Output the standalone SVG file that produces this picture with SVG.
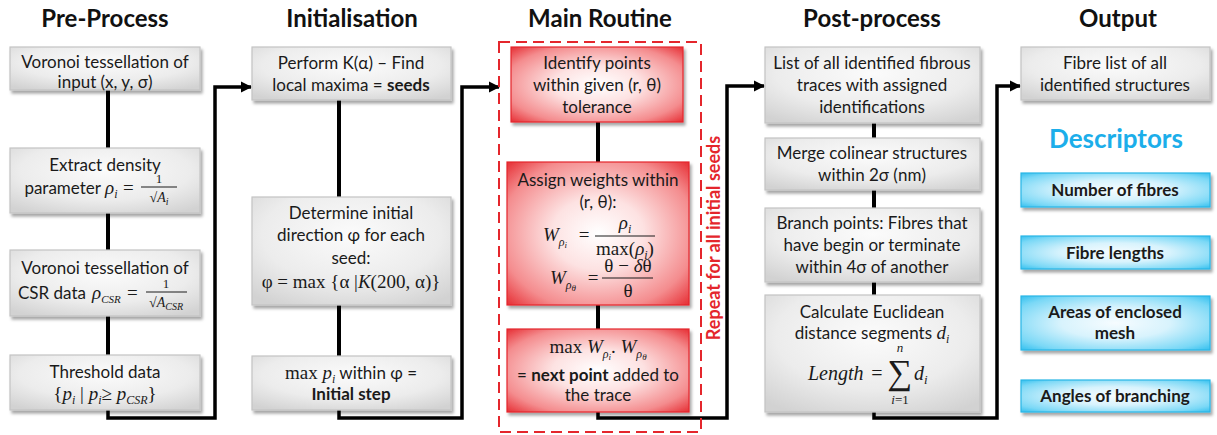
<svg xmlns="http://www.w3.org/2000/svg" width="1217" height="435" viewBox="0 0 1217 435">
<defs>
<style>
.t{font-family:Lato,"Liberation Sans",sans-serif;font-size:17px;fill:#1a1a1a;text-anchor:middle}
.b{font-weight:bold}
.h{font-family:Lato,"Liberation Sans",sans-serif;font-size:24px;font-weight:bold;fill:#111;text-anchor:middle}
.m{font-family:"Liberation Serif","DejaVu Serif",serif;font-size:19px;fill:#1a1a1a}
.i{font-style:italic}
.s9{font-size:9px}
.s10{font-size:10px}
.s11{font-size:11px}
.s12{font-size:12px}
.s13{font-size:13px}
.s14{font-size:14px}
.gbox{fill:url(#gg);stroke:#c4c4c4;stroke-width:1.2;filter:url(#sh)}
.rbox{fill:url(#rg);stroke:#e4262c;stroke-width:1.2;filter:url(#sh)}
.bbox{fill:url(#bg);stroke:#2ab6e6;stroke-width:1.2;filter:url(#sh)}
.ln{stroke:#000;stroke-width:4;fill:none}
.cn{stroke:#000;stroke-width:3.5;fill:none;stroke-linejoin:miter}
.fl{stroke:#1a1a1a;stroke-width:1}
</style>
<radialGradient id="gg" cx="50%" cy="35%" r="75%">
<stop offset="0" stop-color="#fbfbfb"/><stop offset="0.6" stop-color="#ececec"/><stop offset="1" stop-color="#d2d2d2"/>
</radialGradient>
<radialGradient id="rg" cx="50%" cy="50%" r="72%">
<stop offset="0" stop-color="#ffffff"/><stop offset="0.35" stop-color="#fde2e2"/><stop offset="0.75" stop-color="#f48c8e"/><stop offset="1" stop-color="#e5262c"/>
</radialGradient>
<radialGradient id="bg" cx="50%" cy="50%" r="72%">
<stop offset="0" stop-color="#f6fcff"/><stop offset="0.4" stop-color="#d8f3fd"/><stop offset="0.8" stop-color="#7ad8f6"/><stop offset="1" stop-color="#2cbdee"/>
</radialGradient>
<filter id="sh" x="-10%" y="-10%" width="125%" height="135%">
<feDropShadow dx="2" dy="3" stdDeviation="1.8" flood-color="#000" flood-opacity="0.35"/>
</filter>
<marker id="ar" viewBox="0 0 10 10" refX="9" refY="5" markerWidth="3.2" markerHeight="3.2" orient="auto" markerUnits="strokeWidth">
<path d="M0,0 L10,5 L0,10 z" fill="#000"/>
</marker>
</defs>
<rect width="1217" height="435" fill="#fff"/>

<g id="titles">
<text class="h" x="105" y="27">Pre-Process</text>
<text class="h" x="352" y="27">Initialisation</text>
<text class="h" x="600" y="27">Main Routine</text>
<text class="h" x="872" y="27">Post-process</text>
<text class="h" x="1118" y="27">Output</text>
</g>

<g id="connectors">
<line class="ln" x1="108" y1="90" x2="108" y2="148"/>
<line class="ln" x1="108" y1="213" x2="108" y2="250"/>
<line class="ln" x1="108" y1="316" x2="108" y2="355"/>
<line class="ln" x1="339" y1="100" x2="339" y2="197"/>
<line class="ln" x1="339" y1="305" x2="339" y2="356"/>
<line class="ln" x1="598" y1="122" x2="598" y2="162"/>
<line class="ln" x1="598" y1="305" x2="598" y2="329"/>
<line class="ln" x1="874" y1="123" x2="874" y2="138"/>
<line class="ln" x1="874" y1="190" x2="874" y2="208"/>
<line class="ln" x1="874" y1="282" x2="874" y2="295"/>
<path class="cn" d="M108,410 V418 H215 V87 H251" marker-end="url(#ar)"/>
<path class="cn" d="M339,410 V418 H462 V87 H499" marker-end="url(#ar)"/>
<path class="cn" d="M598,412 V418 H727 V86 H764" marker-end="url(#ar)"/>
<path class="cn" d="M874,412 V418 H997 V86 H1020" marker-end="url(#ar)"/>
</g>

<g id="repeat-loop">
<rect x="499" y="42" width="202" height="390" fill="none" stroke="#e4262c" stroke-width="2" stroke-dasharray="11,6"/>
<text transform="translate(720,238) rotate(-90)" style="font-family:Lato,'Liberation Sans',sans-serif;font-size:18px;font-weight:bold;fill:#e4262c;text-anchor:middle">Repeat for all initial seeds</text>
</g>

<g id="pre1">
<rect class="gbox" x="10" y="47" width="190" height="43"/>
<text class="t" x="105" y="68">Voronoi tessellation of</text>
<text class="t" x="105" y="88">input (x, y, σ)</text>
</g>
<g id="pre2">
<rect class="gbox" x="10" y="148" width="190" height="65"/>
<text class="t" x="105" y="171">Extract density</text>
<text class="t" x="101" y="194" style="text-anchor:end">parameter</text>
<text class="m i" x="105" y="194">ρ<tspan class="s12" dy="4">i</tspan></text>
<text class="m" x="123" y="194">=</text>
<text class="m s13" x="159" y="183" text-anchor="middle">1</text>
<line class="fl" x1="141" y1="187" x2="177" y2="187"/>
<text class="m s14" x="159" y="202" text-anchor="middle">√<tspan class="i">A</tspan><tspan class="i s10" dy="3">i</tspan></text>
</g>
<g id="pre3">
<rect class="gbox" x="10" y="250" width="190" height="66"/>
<text class="t" x="105" y="274">Voronoi tessellation of</text>
<text class="t" x="18" y="299" style="text-anchor:start">CSR data</text>
<text class="m i" x="92" y="299">ρ<tspan class="s11" dy="4">CSR</tspan></text>
<text class="m" x="127" y="299">=</text>
<text class="m s13" x="166" y="288" text-anchor="middle">1</text>
<line class="fl" x1="146" y1="292" x2="187" y2="292"/>
<text class="m s14" x="166" y="307" text-anchor="middle">√<tspan class="i">A</tspan><tspan class="i s10" dy="3">CSR</tspan></text>
</g>
<g id="pre4">
<rect class="gbox" x="10" y="355" width="190" height="55"/>
<text class="t" x="105" y="378">Threshold data</text>
<text class="m" x="105" y="400" text-anchor="middle">{<tspan class="i">p</tspan><tspan class="i s12" dy="4">i</tspan><tspan dy="-4"> | </tspan><tspan class="i">p</tspan><tspan class="i s12" dy="4">i</tspan><tspan dy="-4">≥ </tspan><tspan class="i">p</tspan><tspan class="i s12" dy="4">CSR</tspan><tspan dy="-4">}</tspan></text>
</g>

<g id="init1">
<rect class="gbox" x="252" y="47" width="199" height="53"/>
<text class="t" x="351" y="69">Perform K(α) – Find</text>
<text class="t" x="351" y="91">local maxima = <tspan class="b">seeds</tspan></text>
</g>
<g id="init2">
<rect class="gbox" x="252" y="197" width="199" height="108"/>
<text class="t" x="351" y="219">Determine initial</text>
<text class="t" x="351" y="241">direction φ for each</text>
<text class="t" x="351" y="264">seed:</text>
<text class="m" x="351" y="288" text-anchor="middle">φ = max {α |<tspan class="i">K</tspan>(200, α)}</text>
</g>
<g id="init3">
<rect class="gbox" x="252" y="356" width="199" height="54"/>
<text class="t" x="351" y="379"><tspan class="m">max </tspan><tspan class="m i">p</tspan><tspan class="m i s12" dy="4">i</tspan><tspan dy="-4"> within φ =</tspan></text>
<text class="t b" x="351" y="400">Initial step</text>
</g>

<g id="main1">
<rect class="rbox" x="511" y="47" width="172" height="75"/>
<text class="t" x="597" y="69">Identify points</text>
<text class="t" x="597" y="91">within given (r, θ)</text>
<text class="t" x="597" y="113">tolerance</text>
</g>
<g id="main2">
<rect class="rbox" x="507" y="162" width="182" height="143"/>
<text class="t" x="598" y="186">Assign weights within</text>
<text class="t" x="598" y="208">(r, θ):</text>
<text class="m i" x="543" y="241">W<tspan class="s12" dy="5">ρ</tspan><tspan class="s9" dy="2">i</tspan></text>
<text class="m" x="584" y="241" text-anchor="middle">=</text>
<text class="m i" x="625" y="229" text-anchor="middle">ρ<tspan class="s12" dy="4">i</tspan></text>
<line class="fl" x1="595" y1="236" x2="655" y2="236"/>
<text class="m" x="625" y="255" text-anchor="middle">max(<tspan class="i">ρ</tspan><tspan class="i s12" dy="4">i</tspan><tspan dy="-4">)</tspan></text>
<text class="m i" x="550" y="284">W<tspan class="s12" dy="5">ρ</tspan><tspan class="s9" dy="2">θ</tspan></text>
<text class="m" x="593" y="284" text-anchor="middle">=</text>
<text class="m" x="628" y="272" text-anchor="middle">θ − <tspan class="i">δ</tspan>θ</text>
<line class="fl" x1="602" y1="278" x2="653" y2="278"/>
<text class="m" x="628" y="297" text-anchor="middle">θ</text>
</g>
<g id="main3">
<rect class="rbox" x="507" y="329" width="182" height="83"/>
<text class="m" x="598" y="353" text-anchor="middle">max <tspan class="i">W</tspan><tspan class="i s12" dy="5">ρ</tspan><tspan class="i s9" dy="2">i</tspan><tspan dy="-7">. </tspan><tspan class="i">W</tspan><tspan class="i s12" dy="5">ρ</tspan><tspan class="i s9" dy="2">θ</tspan></text>
<text class="t" x="598" y="381">= <tspan class="b">next point</tspan> added to</text>
<text class="t" x="598" y="401">the trace</text>
</g>

<g id="post1">
<rect class="gbox" x="765" y="47" width="215" height="76"/>
<text class="t" x="872" y="69">List of all identified fibrous</text>
<text class="t" x="872" y="91">traces with assigned</text>
<text class="t" x="872" y="113">identifications</text>
</g>
<g id="post2">
<rect class="gbox" x="765" y="138" width="215" height="52"/>
<text class="t" x="872" y="159">Merge colinear structures</text>
<text class="t" x="872" y="181">within 2σ (nm)</text>
</g>
<g id="post3">
<rect class="gbox" x="765" y="208" width="215" height="74"/>
<text class="t" x="872" y="229">Branch points: Fibres that</text>
<text class="t" x="872" y="251">have begin or terminate</text>
<text class="t" x="872" y="273">within 4σ of another</text>
</g>
<g id="post4">
<rect class="gbox" x="765" y="295" width="215" height="117"/>
<text class="t" x="872" y="318">Calculate Euclidean</text>
<text class="t" x="872" y="339">distance segments <tspan class="m i">d</tspan><tspan class="m i s12" dy="4">i</tspan></text>
<text class="m i" x="808" y="380" style="font-size:20px">Length</text>
<text class="m" x="877" y="380" style="font-size:20px" text-anchor="middle">=</text>
<text class="m" x="900" y="384" style="font-size:35px" text-anchor="middle">∑</text>
<text class="m i s13" x="900" y="352" text-anchor="middle">n</text>
<text class="m i s13" x="900" y="404" text-anchor="middle">i<tspan style="font-style:normal">=1</tspan></text>
<text class="m i" x="914" y="380" style="font-size:20px">d<tspan class="s13" dy="4">i</tspan></text>
</g>

<g id="out1">
<rect class="gbox" x="1021" y="47" width="189" height="53"/>
<text class="t" x="1115" y="69">Fibre list of all</text>
<text class="t" x="1115" y="91">identified structures</text>
</g>
<text x="1116" y="148" style="font-family:Lato,'Liberation Sans',sans-serif;font-size:26px;font-weight:bold;fill:#1caeea;text-anchor:middle">Descriptors</text>
<g id="desc1">
<rect class="bbox" x="1021" y="173" width="189" height="34"/>
<text class="t b" x="1115" y="196">Number of fibres</text>
</g>
<g id="desc2">
<rect class="bbox" x="1021" y="236" width="189" height="33"/>
<text class="t b" x="1115" y="259">Fibre lengths</text>
</g>
<g id="desc3">
<rect class="bbox" x="1021" y="296" width="189" height="54"/>
<text class="t b" x="1115" y="318">Areas of enclosed</text>
<text class="t b" x="1115" y="339">mesh</text>
</g>
<g id="desc4">
<rect class="bbox" x="1021" y="380" width="189" height="32"/>
<text class="t b" x="1115" y="402">Angles of branching</text>
</g>
</svg>
